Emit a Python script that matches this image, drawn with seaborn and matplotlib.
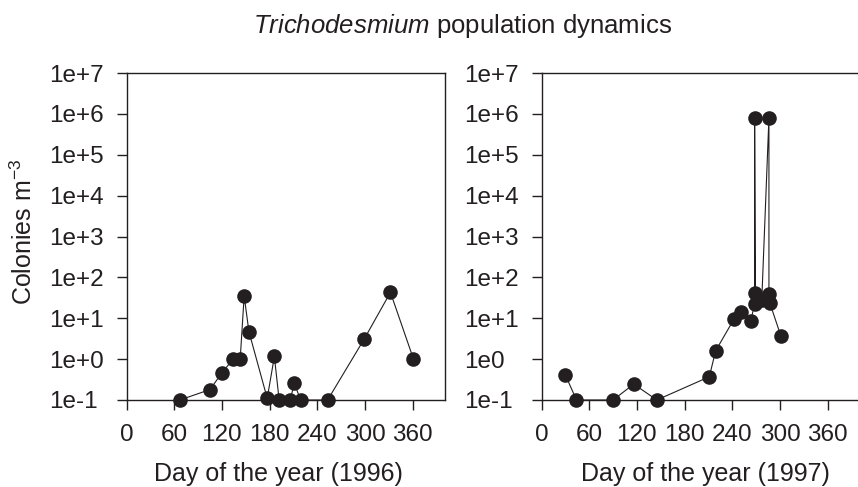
import matplotlib
matplotlib.use('Agg')
import matplotlib.pyplot as plt
from matplotlib.ticker import NullLocator
import seaborn as sns
import pandas as pd

# ---- data ----
days_1996 = [67, 105, 120, 134, 143, 148, 154, 177, 186, 192, 206, 211, 219, 253, 299, 332, 361]
colonies_1996 = [0.1, 0.18, 0.46, 1.0, 1.0, 35, 4.7, 0.11, 1.16, 0.1, 0.1, 0.26, 0.1, 0.1, 3.1, 43, 1.0]

days_1997 = [30, 44, 90, 116, 145, 211, 219, 242, 251, 263, 268, 268, 269, 277, 286, 286, 287, 301]
colonies_1997 = [0.41, 0.1, 0.1, 0.245, 0.1, 0.37, 1.6, 9.5, 14, 8.5, 22, 8e5, 41, 28, 8e5, 40, 24, 3.7]

x_ticks = [0, 60, 120, 180, 240, 300, 360]
y_ticks = [1e-1, 1e0, 1e1, 1e2, 1e3, 1e4, 1e5, 1e6, 1e7]
y_labels_1996 = ['1e-1', '1e+0', '1e+1', '1e+2', '1e+3', '1e+4', '1e+5', '1e+6', '1e+7']
y_labels_1997 = ['1e-1', '1e0', '1e+1', '1e+2', '1e+3', '1e+4', '1e+5', '1e+6', '1e+7']

title_italic = 'Trichodesmium'
title_rest = ' population dynamics'
y_title = 'Colonies m$^{-3}$'
x_title_1996 = 'Day of the year (1996)'
x_title_1997 = 'Day of the year (1997)'

# ---- style ----
sns.set_style('ticks')
plt.rcParams['font.family'] = ['Liberation Sans', 'DejaVu Sans']
plt.rcParams['mathtext.fontset'] = 'custom'
plt.rcParams['mathtext.rm'] = 'Liberation Sans'
plt.rcParams['mathtext.it'] = 'Liberation Sans:italic'
plt.rcParams['mathtext.bf'] = 'Liberation Sans:bold'

ink = '#231f20'
W, H = 858, 487
fig = plt.figure(figsize=(W / 100, H / 100), dpi=100)
fig.patch.set_facecolor('white')

ax1 = fig.add_axes([126.5 / W, 87 / H, 318 / W, 327 / H])
ax2 = fig.add_axes([541.5 / W, 87 / H, 316.5 / W, 327 / H])

panels = [
    (ax1, days_1996, colonies_1996, y_labels_1996, x_title_1996, 400, 0.478),
    (ax2, days_1997, colonies_1997, y_labels_1997, x_title_1997, 398, 0.517),
]

for ax, d, v, ylabs, xlab, xmax, labx in panels:
    df = pd.DataFrame({'day': d, 'colonies': v})
    sns.lineplot(data=df, x='day', y='colonies', ax=ax, sort=False, estimator=None,
                 color=ink, lw=0.8, marker='o', markersize=10.5, markeredgewidth=0,
                 markerfacecolor=ink, clip_on=False, zorder=3)
    ax.set_yscale('log')
    ax.set_ylim(0.1, 1e7)
    ax.set_xlim(0, xmax)
    ax.set_xticks(x_ticks)
    ax.set_xticklabels([str(t) for t in x_ticks])
    ax.set_yticks(y_ticks)
    ax.set_yticklabels(ylabs, ha='left')
    ax.yaxis.set_minor_locator(NullLocator())
    ax.tick_params(direction='out', length=7, width=1, color=ink,
                   labelsize=17.5, labelcolor=ink)
    ax.tick_params(axis='y', pad=49)
    ax.tick_params(axis='x', pad=10)
    for s in ax.spines.values():
        s.set_linewidth(1)
        s.set_color(ink)
    ax.set_ylabel('')
    ax.set_xlabel(xlab, fontsize=18, color=ink)
    ax.xaxis.set_label_coords(labx, -0.19)
    ax.set_facecolor('white')

ax2.spines['right'].set_visible(False)

fig.text(463 / W, 1 - 33 / H, r'$\it{' + title_italic + '}$' + title_rest,
         ha='center', va='baseline', fontsize=18.5, color=ink)
fig.text(24 / W, (H - 232) / H, y_title, rotation=90, ha='center', va='center',
         fontsize=18, color=ink)

fig.savefig('out.png', dpi=100, facecolor='white')
